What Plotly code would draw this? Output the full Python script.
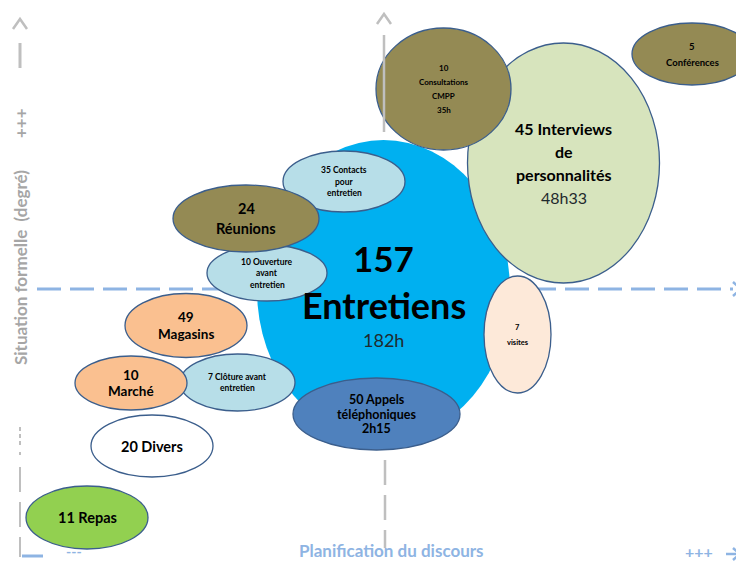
import plotly.graph_objects as go

# Bubbles, listed back to front (later ones are drawn on top)
names = ["Entretiens", "Interviews", "Consultations", "Conférences", "Contacts",
         "Ouverture", "Réunions", "Clôture", "Marché", "Magasins", "Appels",
         "Visites", "Divers", "Repas"]
# centre on "Planification du discours" (x) and "Situation formelle" (y, measured from the top)
planif = [383.5, 563.5, 443.5, 692, 344, 267, 246, 237.5, 131, 186, 376.5, 517.5, 152, 87]
formel = [290, 163, 89, 54, 181.5, 273, 218.5, 382.5, 383, 325.5, 414, 334.5, 446, 517.5]
half_w = [126.5, 96, 67.5, 60, 61, 60, 73, 57.5, 56, 61, 83.5, 33.5, 61, 61]
half_h = [150, 120, 61, 31, 30.5, 28, 33.5, 28.5, 27, 32, 36, 58.5, 31, 31.5]
labels = [
    ["157", "Entretiens", "182h"],
    ["45 Interviews", "de", "personnalités", "48h33"],
    ["10", "Consultations", "CMPP", "35h"],
    ["5", "Conférences"],
    ["35 Contacts", "pour", "entretien"],
    ["10 Ouverture", "avant", "entretien"],
    ["24", "Réunions"],
    ["7 Clôture avant", "entretien"],
    ["10", "Marché"],
    ["49", "Magasins"],
    ["50 Appels", "téléphoniques", "2h15"],
    ["7", "visites"],
    ["20 Divers"],
    ["11 Repas"],
]

OLIVE = "#948A54"
PALE_BLUE = "#B7DEE8"
ORANGE = "#FAC090"
OUTLINE = "#3B5E8C"
FONT = "Lato"

# fill, font size, line gap, non-bold lines
STYLE = {
    "Entretiens": dict(fill="#00B0F0", size=[35, 36, 18], offsets=[-32, 15, 50], plain=[2], line=False),
    "Interviews": dict(fill="#D7E4BD", size=16, gap=23, plain=[3]),
    "Consultations": dict(fill=OLIVE, size=8, gap=14),
    "Conférences": dict(fill=OLIVE, size=9.5, gap=16),
    "Contacts": dict(fill=PALE_BLUE, size=8.5, gap=11.5),
    "Ouverture": dict(fill=PALE_BLUE, size=8.5, gap=11.5),
    "Réunions": dict(fill=OLIVE, size=14.5, gap=20),
    "Clôture": dict(fill=PALE_BLUE, size=8.5, gap=10.5),
    "Marché": dict(fill=ORANGE, size=13.5, gap=16),
    "Magasins": dict(fill=ORANGE, size=13.5, gap=17),
    "Appels": dict(fill="#4F81BD", size=12.5, gap=14.5),
    "Visites": dict(fill="#FDE9D9", size=7.5, gap=15),
    "Divers": dict(fill="#FFFFFF", size=14.5, gap=18),
    "Repas": dict(fill="#92D050", size=14.5, gap=18),
}

AXIS_GRAY = "#BFBFBF"
LABEL_GRAY = "#A6A6A6"
AXIS_BLUE = "#8EB4E3"

# the page puts the plot 8px in from the corner, so the ranges start at 8
PAGE_OFFSET = 8

fig = go.Figure()
shapes = []
annotations = []

# quadrant lines behind the bubbles
shapes.append(dict(type="line", x0=37, x1=733, y0=289, y1=289, layer="below",
                   line=dict(color=AXIS_BLUE, width=3, dash="24px,9px")))
shapes.append(dict(type="path", path="M 733 282 L 741 289 L 733 296", layer="below",
                   line=dict(color=AXIS_BLUE, width=2.5)))

for i, name in enumerate(names):
    st = STYLE[name]
    cx, cy, rw, rh = planif[i], formel[i], half_w[i], half_h[i]
    shapes.append(dict(
        type="circle", xref="x", yref="y",
        x0=cx - rw, x1=cx + rw, y0=cy - rh, y1=cy + rh,
        fillcolor=st["fill"], layer="above",
        line=dict(color=OUTLINE, width=1.3) if st.get("line", True) else dict(width=0),
    ))
    lines = labels[i]
    n = len(lines)
    for k, txt in enumerate(lines):
        size = st["size"][k] if isinstance(st["size"], list) else st["size"]
        if "offsets" in st:
            dy = st["offsets"][k]
        else:
            dy = (k - (n - 1) / 2) * st["gap"]
        bold = k not in st.get("plain", [])
        annotations.append(dict(
            x=cx, y=cy + dy, xref="x", yref="y", showarrow=False,
            text=f"<b>{txt}</b>" if bold else txt,
            font=dict(family=FONT, size=size, color="#000000" if bold else "#1F2A2E"),
            xanchor="center", yanchor="middle",
        ))

# axes drawn as decorations
deco = [
    # left axis
    dict(type="path", path="M 13 29 L 20 19 L 27 29", line=dict(color=AXIS_GRAY, width=2.5)),
    dict(type="line", x0=20, x1=20, y0=43, y1=68, line=dict(color=AXIS_GRAY, width=3)),
    dict(type="line", x0=20, x1=20, y0=427, y1=445, line=dict(color=AXIS_GRAY, width=2, dash="4px,3px")),
    dict(type="line", x0=20, x1=20, y0=452, y1=455, line=dict(color=AXIS_GRAY, width=2)),
    dict(type="line", x0=20, x1=20, y0=467, y1=557, line=dict(color=AXIS_GRAY, width=2, dash="25px,10px")),
    # central vertical line
    dict(type="path", path="M 377 24 L 384 14 L 391 24", line=dict(color=AXIS_GRAY, width=2.5)),
    dict(type="line", x0=384, x1=384, y0=35, y1=132, line=dict(color=AXIS_GRAY, width=2.5)),
    dict(type="line", x0=385, x1=385, y0=460, y1=548, line=dict(color=AXIS_GRAY, width=2.5, dash="25px,10px")),
    # bottom axis
    dict(type="line", x0=22, x1=43, y0=556, y1=556, line=dict(color=AXIS_BLUE, width=3)),
    dict(type="line", x0=726, x1=740, y0=554, y1=554, line=dict(color=AXIS_BLUE, width=2.5)),
    dict(type="path", path="M 733 548 L 740 554 L 733 560", line=dict(color=AXIS_BLUE, width=2.5)),
]
for d in deco:
    d.update(xref="x", yref="y", layer="above")
    shapes.append(d)

annotations += [
    dict(x=20, y=268, text="<b>Situation formelle&nbsp; (degré)</b>", textangle=-90,
         font=dict(family=FONT, size=17, color=LABEL_GRAY)),
    dict(x=20, y=123, text="<b>+++</b>", textangle=-90,
         font=dict(family=FONT, size=17, color=LABEL_GRAY)),
    dict(x=391, y=550, text="<b>Planification du discours</b>",
         font=dict(family=FONT, size=17, color=AXIS_BLUE)),
    dict(x=74, y=551, text="<b>---</b>", font=dict(family=FONT, size=14, color=AXIS_BLUE)),
    dict(x=699, y=551, text="<b>+++</b>", font=dict(family=FONT, size=16, color=AXIS_BLUE)),
]
for a in annotations[-5:]:
    a.update(xref="x", yref="y", showarrow=False, xanchor="center", yanchor="middle")

fig.update_layout(
    width=744 - PAGE_OFFSET, height=562 - PAGE_OFFSET,
    margin=dict(l=0, r=0, t=0, b=0),
    paper_bgcolor="white", plot_bgcolor="white",
    showlegend=False,
    shapes=shapes, annotations=annotations,
    xaxis=dict(range=[PAGE_OFFSET, 744], visible=False, fixedrange=True),
    yaxis=dict(range=[562, PAGE_OFFSET], visible=False, fixedrange=True),
)

fig.write_html("out.html")
